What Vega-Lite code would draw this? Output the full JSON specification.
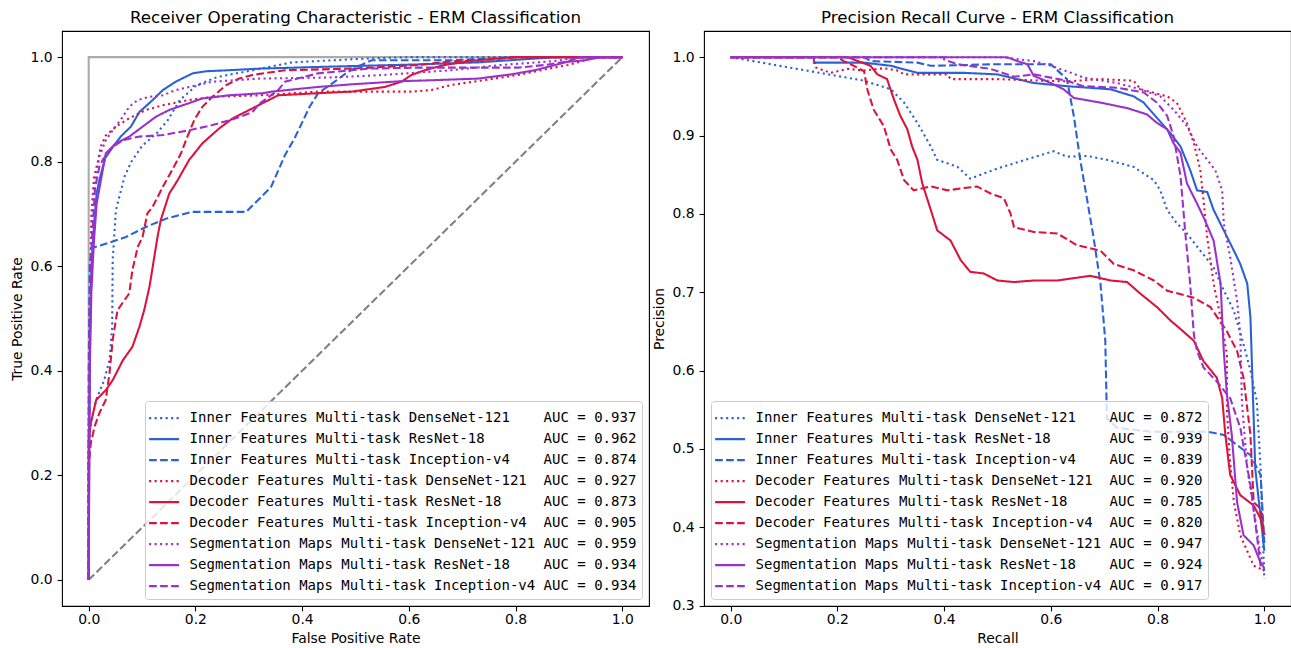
{
  "$schema": "https://vega.github.io/schema/vega-lite/v6.json",
  "background": "white",
  "padding": {"left": 9, "top": 9, "right": 0, "bottom": 2},
  "bounds": "flush",
  "spacing": 55,
  "config": {
    "font": "DejaVu Sans",
    "view": {"stroke": "black", "strokeWidth": 1.1},
    "axis": {"grid": false, "domain": false, "tickColor": "black", "tickSize": 4.9, "tickWidth": 1.1, "labelFont": "DejaVu Sans", "labelFontSize": 13.9, "labelColor": "black", "labelPadding": 1.9, "labelFlush": false, "titleFont": "DejaVu Sans", "titleFontSize": 13.9, "titleFontWeight": "normal", "titleColor": "black", "titlePadding": 4.6},
    "axisY": {"labelPadding": 4.9, "titlePadding": 5.6},
    "legend": {"offset": 7, "fillColor": "rgba(255,255,255,0.8)", "strokeColor": "#cccccc", "cornerRadius": 3, "padding": 5.6, "labelFont": "DejaVu Sans Mono", "labelFontSize": 14, "labelColor": "black", "labelLimit": 1000, "labelOffset": 16, "symbolType": "M-1.3,0L1.7,0", "symbolSize": 400, "symbolStrokeWidth": 2.08, "rowPadding": 2},
    "title": {"font": "DejaVu Sans", "fontSize": 16.7, "fontWeight": "normal", "color": "black", "offset": 4, "anchor": "middle"},
    "line": {"strokeWidth": 2.08}
  },
  "datasets": {
    "rocLab": [
      {"k": "IFD", "label": "Inner Features Multi-task DenseNet-121\u00a0\u00a0\u00a0 AUC = 0.937"},
      {"k": "IFR", "label": "Inner Features Multi-task ResNet-18\u00a0\u00a0\u00a0\u00a0\u00a0\u00a0 AUC = 0.962"},
      {"k": "IFI", "label": "Inner Features Multi-task Inception-v4\u00a0\u00a0\u00a0 AUC = 0.874"},
      {"k": "DFD", "label": "Decoder Features Multi-task DenseNet-121\u00a0 AUC = 0.927"},
      {"k": "DFR", "label": "Decoder Features Multi-task ResNet-18\u00a0\u00a0\u00a0\u00a0 AUC = 0.873"},
      {"k": "DFI", "label": "Decoder Features Multi-task Inception-v4\u00a0 AUC = 0.905"},
      {"k": "SMD", "label": "Segmentation Maps Multi-task DenseNet-121 AUC = 0.959"},
      {"k": "SMR", "label": "Segmentation Maps Multi-task ResNet-18\u00a0\u00a0\u00a0 AUC = 0.934"},
      {"k": "SMI", "label": "Segmentation Maps Multi-task Inception-v4 AUC = 0.934"}
    ],
    "prLab": [
      {"k": "IFD", "label": "Inner Features Multi-task DenseNet-121\u00a0\u00a0\u00a0 AUC = 0.872"},
      {"k": "IFR", "label": "Inner Features Multi-task ResNet-18\u00a0\u00a0\u00a0\u00a0\u00a0\u00a0 AUC = 0.939"},
      {"k": "IFI", "label": "Inner Features Multi-task Inception-v4\u00a0\u00a0\u00a0 AUC = 0.839"},
      {"k": "DFD", "label": "Decoder Features Multi-task DenseNet-121\u00a0 AUC = 0.920"},
      {"k": "DFR", "label": "Decoder Features Multi-task ResNet-18\u00a0\u00a0\u00a0\u00a0 AUC = 0.785"},
      {"k": "DFI", "label": "Decoder Features Multi-task Inception-v4\u00a0 AUC = 0.820"},
      {"k": "SMD", "label": "Segmentation Maps Multi-task DenseNet-121 AUC = 0.947"},
      {"k": "SMR", "label": "Segmentation Maps Multi-task ResNet-18\u00a0\u00a0\u00a0 AUC = 0.924"},
      {"k": "SMI", "label": "Segmentation Maps Multi-task Inception-v4 AUC = 0.917"}
    ],
    "roc": [
      {"k":"IFD","i":0,"x":0,"y":0},{"k":"IFD","i":1,"x":0,"y":0.25},{"k":"IFD","i":2,"x":0.004,"y":0.30},{"k":"IFD","i":3,"x":0.014,"y":0.344},{"k":"IFD","i":4,"x":0.029,"y":0.382},{"k":"IFD","i":5,"x":0.039,"y":0.42},{"k":"IFD","i":6,"x":0.044,"y":0.484},{"k":"IFD","i":7,"x":0.045,"y":0.612},{"k":"IFD","i":8,"x":0.051,"y":0.707},{"k":"IFD","i":9,"x":0.067,"y":0.771},{"k":"IFD","i":10,"x":0.08,"y":0.80},{"k":"IFD","i":11,"x":0.10,"y":0.83},{"k":"IFD","i":12,"x":0.128,"y":0.855},{"k":"IFD","i":13,"x":0.148,"y":0.879},{"k":"IFD","i":14,"x":0.171,"y":0.918},{"k":"IFD","i":15,"x":0.202,"y":0.946},{"k":"IFD","i":16,"x":0.241,"y":0.962},{"k":"IFD","i":17,"x":0.303,"y":0.974},{"k":"IFD","i":18,"x":0.381,"y":0.99},{"k":"IFD","i":19,"x":0.458,"y":0.994},{"k":"IFD","i":20,"x":0.536,"y":0.998},{"k":"IFD","i":21,"x":0.6,"y":1.0},{"k":"IFD","i":22,"x":1,"y":1},
      {"k":"IFR","i":0,"x":0,"y":0},{"k":"IFR","i":1,"x":0.001,"y":0.3},{"k":"IFR","i":2,"x":0.003,"y":0.5},{"k":"IFR","i":3,"x":0.005,"y":0.6},{"k":"IFR","i":4,"x":0.01,"y":0.68},{"k":"IFR","i":5,"x":0.015,"y":0.74},{"k":"IFR","i":6,"x":0.020,"y":0.765},{"k":"IFR","i":7,"x":0.031,"y":0.807},{"k":"IFR","i":8,"x":0.045,"y":0.828},{"k":"IFR","i":9,"x":0.060,"y":0.848},{"k":"IFR","i":10,"x":0.079,"y":0.867},{"k":"IFR","i":11,"x":0.095,"y":0.895},{"k":"IFR","i":12,"x":0.12,"y":0.918},{"k":"IFR","i":13,"x":0.139,"y":0.937},{"k":"IFR","i":14,"x":0.163,"y":0.953},{"k":"IFR","i":15,"x":0.195,"y":0.969},{"k":"IFR","i":16,"x":0.22,"y":0.973},{"k":"IFR","i":17,"x":0.263,"y":0.975},{"k":"IFR","i":18,"x":0.32,"y":0.978},{"k":"IFR","i":19,"x":0.458,"y":0.982},{"k":"IFR","i":20,"x":0.614,"y":0.986},{"k":"IFR","i":21,"x":0.73,"y":0.99},{"k":"IFR","i":22,"x":0.847,"y":0.998},{"k":"IFR","i":23,"x":0.88,"y":1.0},{"k":"IFR","i":24,"x":1,"y":1},
      {"k":"IFI","i":0,"x":0,"y":0},{"k":"IFI","i":1,"x":0,"y":0.4},{"k":"IFI","i":2,"x":0.002,"y":0.6},{"k":"IFI","i":3,"x":0.005,"y":0.635},{"k":"IFI","i":4,"x":0.023,"y":0.64},{"k":"IFI","i":5,"x":0.07,"y":0.656},{"k":"IFI","i":6,"x":0.109,"y":0.676},{"k":"IFI","i":7,"x":0.148,"y":0.692},{"k":"IFI","i":8,"x":0.194,"y":0.704},{"k":"IFI","i":9,"x":0.295,"y":0.704},{"k":"IFI","i":10,"x":0.319,"y":0.728},{"k":"IFI","i":11,"x":0.342,"y":0.752},{"k":"IFI","i":12,"x":0.368,"y":0.813},{"k":"IFI","i":13,"x":0.386,"y":0.845},{"k":"IFI","i":14,"x":0.414,"y":0.905},{"k":"IFI","i":15,"x":0.43,"y":0.931},{"k":"IFI","i":16,"x":0.461,"y":0.953},{"k":"IFI","i":17,"x":0.486,"y":0.972},{"k":"IFI","i":18,"x":0.511,"y":0.985},{"k":"IFI","i":19,"x":0.53,"y":0.994},{"k":"IFI","i":20,"x":0.68,"y":0.994},{"k":"IFI","i":21,"x":0.8,"y":1.0},{"k":"IFI","i":22,"x":1,"y":1},
      {"k":"DFD","i":0,"x":0,"y":0},{"k":"DFD","i":1,"x":0,"y":0.25},{"k":"DFD","i":2,"x":0.002,"y":0.5},{"k":"DFD","i":3,"x":0.005,"y":0.7},{"k":"DFD","i":4,"x":0.01,"y":0.77},{"k":"DFD","i":5,"x":0.017,"y":0.8},{"k":"DFD","i":6,"x":0.023,"y":0.83},{"k":"DFD","i":7,"x":0.032,"y":0.85},{"k":"DFD","i":8,"x":0.051,"y":0.867},{"k":"DFD","i":9,"x":0.076,"y":0.883},{"k":"DFD","i":10,"x":0.107,"y":0.899},{"k":"DFD","i":11,"x":0.139,"y":0.908},{"k":"DFD","i":12,"x":0.188,"y":0.918},{"k":"DFD","i":13,"x":0.232,"y":0.924},{"k":"DFD","i":14,"x":0.32,"y":0.927},{"k":"DFD","i":15,"x":0.43,"y":0.934},{"k":"DFD","i":16,"x":0.605,"y":0.934},{"k":"DFD","i":17,"x":0.642,"y":0.937},{"k":"DFD","i":18,"x":0.68,"y":0.947},{"k":"DFD","i":19,"x":0.742,"y":0.956},{"k":"DFD","i":20,"x":0.805,"y":0.966},{"k":"DFD","i":21,"x":0.848,"y":0.975},{"k":"DFD","i":22,"x":0.898,"y":0.985},{"k":"DFD","i":23,"x":0.93,"y":0.994},{"k":"DFD","i":24,"x":0.95,"y":1.0},{"k":"DFD","i":25,"x":1,"y":1},
      {"k":"DFR","i":0,"x":0,"y":0},{"k":"DFR","i":1,"x":0,"y":0.27},{"k":"DFR","i":2,"x":0.004,"y":0.30},{"k":"DFR","i":3,"x":0.014,"y":0.344},{"k":"DFR","i":4,"x":0.032,"y":0.363},{"k":"DFR","i":5,"x":0.045,"y":0.382},{"k":"DFR","i":6,"x":0.064,"y":0.42},{"k":"DFR","i":7,"x":0.082,"y":0.446},{"k":"DFR","i":8,"x":0.095,"y":0.484},{"k":"DFR","i":9,"x":0.104,"y":0.516},{"k":"DFR","i":10,"x":0.114,"y":0.561},{"k":"DFR","i":11,"x":0.12,"y":0.599},{"k":"DFR","i":12,"x":0.129,"y":0.656},{"k":"DFR","i":13,"x":0.135,"y":0.688},{"k":"DFR","i":14,"x":0.151,"y":0.739},{"k":"DFR","i":15,"x":0.167,"y":0.765},{"k":"DFR","i":16,"x":0.188,"y":0.803},{"k":"DFR","i":17,"x":0.213,"y":0.835},{"k":"DFR","i":18,"x":0.245,"y":0.864},{"k":"DFR","i":19,"x":0.27,"y":0.883},{"k":"DFR","i":20,"x":0.301,"y":0.899},{"k":"DFR","i":21,"x":0.326,"y":0.912},{"k":"DFR","i":22,"x":0.355,"y":0.927},{"k":"DFR","i":23,"x":0.43,"y":0.931},{"k":"DFR","i":24,"x":0.493,"y":0.934},{"k":"DFR","i":25,"x":0.555,"y":0.943},{"k":"DFR","i":26,"x":0.586,"y":0.953},{"k":"DFR","i":27,"x":0.605,"y":0.966},{"k":"DFR","i":28,"x":0.63,"y":0.975},{"k":"DFR","i":29,"x":0.667,"y":0.985},{"k":"DFR","i":30,"x":0.711,"y":0.992},{"k":"DFR","i":31,"x":0.75,"y":0.996},{"k":"DFR","i":32,"x":0.8,"y":1.0},{"k":"DFR","i":33,"x":1,"y":1},
      {"k":"DFI","i":0,"x":0,"y":0},{"k":"DFI","i":1,"x":0,"y":0.22},{"k":"DFI","i":2,"x":0.004,"y":0.261},{"k":"DFI","i":3,"x":0.011,"y":0.293},{"k":"DFI","i":4,"x":0.02,"y":0.319},{"k":"DFI","i":5,"x":0.032,"y":0.344},{"k":"DFI","i":6,"x":0.039,"y":0.395},{"k":"DFI","i":7,"x":0.045,"y":0.459},{"k":"DFI","i":8,"x":0.054,"y":0.516},{"k":"DFI","i":9,"x":0.067,"y":0.535},{"k":"DFI","i":10,"x":0.076,"y":0.548},{"k":"DFI","i":11,"x":0.082,"y":0.593},{"k":"DFI","i":12,"x":0.092,"y":0.637},{"k":"DFI","i":13,"x":0.101,"y":0.656},{"k":"DFI","i":14,"x":0.11,"y":0.701},{"k":"DFI","i":15,"x":0.12,"y":0.714},{"k":"DFI","i":16,"x":0.139,"y":0.752},{"k":"DFI","i":17,"x":0.157,"y":0.785},{"k":"DFI","i":18,"x":0.173,"y":0.816},{"k":"DFI","i":19,"x":0.185,"y":0.848},{"k":"DFI","i":20,"x":0.198,"y":0.88},{"k":"DFI","i":21,"x":0.213,"y":0.905},{"k":"DFI","i":22,"x":0.232,"y":0.924},{"k":"DFI","i":23,"x":0.257,"y":0.946},{"k":"DFI","i":24,"x":0.282,"y":0.959},{"k":"DFI","i":25,"x":0.307,"y":0.966},{"k":"DFI","i":26,"x":0.368,"y":0.975},{"k":"DFI","i":27,"x":0.493,"y":0.978},{"k":"DFI","i":28,"x":0.617,"y":0.985},{"k":"DFI","i":29,"x":0.68,"y":0.992},{"k":"DFI","i":30,"x":0.742,"y":0.994},{"k":"DFI","i":31,"x":0.8,"y":1.0},{"k":"DFI","i":32,"x":1,"y":1},
      {"k":"SMD","i":0,"x":0,"y":0},{"k":"SMD","i":1,"x":0,"y":0.3},{"k":"SMD","i":2,"x":0.002,"y":0.55},{"k":"SMD","i":3,"x":0.005,"y":0.65},{"k":"SMD","i":4,"x":0.01,"y":0.75},{"k":"SMD","i":5,"x":0.015,"y":0.78},{"k":"SMD","i":6,"x":0.02,"y":0.81},{"k":"SMD","i":7,"x":0.032,"y":0.841},{"k":"SMD","i":8,"x":0.045,"y":0.86},{"k":"SMD","i":9,"x":0.06,"y":0.88},{"k":"SMD","i":10,"x":0.076,"y":0.905},{"k":"SMD","i":11,"x":0.092,"y":0.918},{"k":"SMD","i":12,"x":0.114,"y":0.924},{"k":"SMD","i":13,"x":0.139,"y":0.927},{"k":"SMD","i":14,"x":0.163,"y":0.937},{"k":"SMD","i":15,"x":0.201,"y":0.946},{"k":"SMD","i":16,"x":0.232,"y":0.953},{"k":"SMD","i":17,"x":0.276,"y":0.956},{"k":"SMD","i":18,"x":0.32,"y":0.959},{"k":"SMD","i":19,"x":0.45,"y":0.961},{"k":"SMD","i":20,"x":0.555,"y":0.966},{"k":"SMD","i":21,"x":0.68,"y":0.975},{"k":"SMD","i":22,"x":0.773,"y":0.985},{"k":"SMD","i":23,"x":0.867,"y":0.992},{"k":"SMD","i":24,"x":0.93,"y":1.0},{"k":"SMD","i":25,"x":1,"y":1},
      {"k":"SMR","i":0,"x":0,"y":0},{"k":"SMR","i":1,"x":0.002,"y":0.4},{"k":"SMR","i":2,"x":0.005,"y":0.55},{"k":"SMR","i":3,"x":0.01,"y":0.65},{"k":"SMR","i":4,"x":0.015,"y":0.72},{"k":"SMR","i":5,"x":0.023,"y":0.765},{"k":"SMR","i":6,"x":0.032,"y":0.816},{"k":"SMR","i":7,"x":0.051,"y":0.835},{"k":"SMR","i":8,"x":0.076,"y":0.848},{"k":"SMR","i":9,"x":0.101,"y":0.867},{"k":"SMR","i":10,"x":0.126,"y":0.886},{"k":"SMR","i":11,"x":0.151,"y":0.899},{"k":"SMR","i":12,"x":0.188,"y":0.912},{"k":"SMR","i":13,"x":0.213,"y":0.921},{"k":"SMR","i":14,"x":0.263,"y":0.927},{"k":"SMR","i":15,"x":0.326,"y":0.931},{"k":"SMR","i":16,"x":0.343,"y":0.934},{"k":"SMR","i":17,"x":0.43,"y":0.943},{"k":"SMR","i":18,"x":0.493,"y":0.948},{"k":"SMR","i":19,"x":0.586,"y":0.954},{"k":"SMR","i":20,"x":0.649,"y":0.956},{"k":"SMR","i":21,"x":0.73,"y":0.959},{"k":"SMR","i":22,"x":0.792,"y":0.967},{"k":"SMR","i":23,"x":0.836,"y":0.975},{"k":"SMR","i":24,"x":0.867,"y":0.983},{"k":"SMR","i":25,"x":0.898,"y":0.991},{"k":"SMR","i":26,"x":0.93,"y":0.994},{"k":"SMR","i":27,"x":0.96,"y":1.0},{"k":"SMR","i":28,"x":1,"y":1},
      {"k":"SMI","i":0,"x":0,"y":0},{"k":"SMI","i":1,"x":0.002,"y":0.45},{"k":"SMI","i":2,"x":0.006,"y":0.65},{"k":"SMI","i":3,"x":0.012,"y":0.75},{"k":"SMI","i":4,"x":0.02,"y":0.79},{"k":"SMI","i":5,"x":0.026,"y":0.803},{"k":"SMI","i":6,"x":0.045,"y":0.828},{"k":"SMI","i":7,"x":0.064,"y":0.841},{"k":"SMI","i":8,"x":0.095,"y":0.848},{"k":"SMI","i":9,"x":0.139,"y":0.851},{"k":"SMI","i":10,"x":0.188,"y":0.86},{"k":"SMI","i":11,"x":0.232,"y":0.87},{"k":"SMI","i":12,"x":0.276,"y":0.883},{"k":"SMI","i":13,"x":0.307,"y":0.895},{"k":"SMI","i":14,"x":0.319,"y":0.91},{"k":"SMI","i":15,"x":0.355,"y":0.937},{"k":"SMI","i":16,"x":0.368,"y":0.953},{"k":"SMI","i":17,"x":0.43,"y":0.969},{"k":"SMI","i":18,"x":0.524,"y":0.978},{"k":"SMI","i":19,"x":0.617,"y":0.98},{"k":"SMI","i":20,"x":0.805,"y":0.98},{"k":"SMI","i":21,"x":0.855,"y":0.985},{"k":"SMI","i":22,"x":0.898,"y":0.992},{"k":"SMI","i":23,"x":0.92,"y":1.0},{"k":"SMI","i":24,"x":1,"y":1}
    ],
    "pr": [
      {"k":"IFD","i":0,"x":0,"y":1.0},{"k":"IFD","i":1,"x":0.125,"y":0.985},{"k":"IFD","i":2,"x":0.25,"y":0.97},{"k":"IFD","i":3,"x":0.30,"y":0.959},{"k":"IFD","i":4,"x":0.325,"y":0.942},{"k":"IFD","i":5,"x":0.35,"y":0.916},{"k":"IFD","i":6,"x":0.375,"y":0.886},{"k":"IFD","i":7,"x":0.387,"y":0.869},{"k":"IFD","i":8,"x":0.425,"y":0.86},{"k":"IFD","i":9,"x":0.449,"y":0.845},{"k":"IFD","i":10,"x":0.50,"y":0.858},{"k":"IFD","i":11,"x":0.562,"y":0.871},{"k":"IFD","i":12,"x":0.605,"y":0.88},{"k":"IFD","i":13,"x":0.63,"y":0.873},{"k":"IFD","i":14,"x":0.668,"y":0.874},{"k":"IFD","i":15,"x":0.705,"y":0.869},{"k":"IFD","i":16,"x":0.755,"y":0.86},{"k":"IFD","i":17,"x":0.793,"y":0.843},{"k":"IFD","i":18,"x":0.805,"y":0.83},{"k":"IFD","i":19,"x":0.818,"y":0.805},{"k":"IFD","i":20,"x":0.836,"y":0.788},{"k":"IFD","i":21,"x":0.855,"y":0.775},{"k":"IFD","i":22,"x":0.88,"y":0.753},{"k":"IFD","i":23,"x":0.905,"y":0.732},{"k":"IFD","i":24,"x":0.918,"y":0.711},{"k":"IFD","i":25,"x":0.943,"y":0.676},{"k":"IFD","i":26,"x":0.961,"y":0.634},{"k":"IFD","i":27,"x":0.974,"y":0.6},{"k":"IFD","i":28,"x":0.986,"y":0.561},{"k":"IFD","i":29,"x":0.993,"y":0.475},{"k":"IFD","i":30,"x":1.0,"y":0.334},
      {"k":"IFR","i":0,"x":0,"y":1.0},{"k":"IFR","i":1,"x":0.156,"y":1.0},{"k":"IFR","i":2,"x":0.156,"y":0.993},{"k":"IFR","i":3,"x":0.25,"y":0.993},{"k":"IFR","i":4,"x":0.30,"y":0.989},{"k":"IFR","i":5,"x":0.35,"y":0.98},{"k":"IFR","i":6,"x":0.437,"y":0.98},{"k":"IFR","i":7,"x":0.50,"y":0.978},{"k":"IFR","i":8,"x":0.568,"y":0.967},{"k":"IFR","i":9,"x":0.63,"y":0.963},{"k":"IFR","i":10,"x":0.712,"y":0.959},{"k":"IFR","i":11,"x":0.755,"y":0.95},{"k":"IFR","i":12,"x":0.774,"y":0.942},{"k":"IFR","i":13,"x":0.793,"y":0.927},{"k":"IFR","i":14,"x":0.824,"y":0.903},{"k":"IFR","i":15,"x":0.843,"y":0.886},{"k":"IFR","i":16,"x":0.861,"y":0.856},{"k":"IFR","i":17,"x":0.874,"y":0.83},{"k":"IFR","i":18,"x":0.893,"y":0.828},{"k":"IFR","i":19,"x":0.905,"y":0.805},{"k":"IFR","i":20,"x":0.924,"y":0.779},{"k":"IFR","i":21,"x":0.943,"y":0.753},{"k":"IFR","i":22,"x":0.955,"y":0.736},{"k":"IFR","i":23,"x":0.968,"y":0.711},{"k":"IFR","i":24,"x":0.974,"y":0.668},{"k":"IFR","i":25,"x":0.977,"y":0.604},{"k":"IFR","i":26,"x":0.983,"y":0.475},{"k":"IFR","i":27,"x":0.99,"y":0.432},{"k":"IFR","i":28,"x":1.0,"y":0.37},
      {"k":"IFI","i":0,"x":0,"y":1.0},{"k":"IFI","i":1,"x":0.25,"y":1.0},{"k":"IFI","i":2,"x":0.262,"y":0.995},{"k":"IFI","i":3,"x":0.35,"y":0.993},{"k":"IFI","i":4,"x":0.375,"y":0.989},{"k":"IFI","i":5,"x":0.50,"y":0.991},{"k":"IFI","i":6,"x":0.6,"y":0.991},{"k":"IFI","i":7,"x":0.63,"y":0.972},{"k":"IFI","i":8,"x":0.643,"y":0.925},{"k":"IFI","i":9,"x":0.655,"y":0.869},{"k":"IFI","i":10,"x":0.668,"y":0.818},{"k":"IFI","i":11,"x":0.68,"y":0.77},{"k":"IFI","i":12,"x":0.693,"y":0.711},{"k":"IFI","i":13,"x":0.702,"y":0.638},{"k":"IFI","i":14,"x":0.705,"y":0.539},{"k":"IFI","i":15,"x":0.724,"y":0.527},{"k":"IFI","i":16,"x":0.787,"y":0.522},{"k":"IFI","i":17,"x":0.893,"y":0.522},{"k":"IFI","i":18,"x":0.924,"y":0.518},{"k":"IFI","i":19,"x":0.974,"y":0.492},{"k":"IFI","i":20,"x":0.993,"y":0.467},{"k":"IFI","i":21,"x":1.0,"y":0.38},
      {"k":"DFD","i":0,"x":0,"y":1.0},{"k":"DFD","i":1,"x":0.156,"y":1.0},{"k":"DFD","i":2,"x":0.159,"y":0.987},{"k":"DFD","i":3,"x":0.187,"y":0.98},{"k":"DFD","i":4,"x":0.219,"y":0.985},{"k":"DFD","i":5,"x":0.25,"y":0.983},{"k":"DFD","i":6,"x":0.287,"y":0.986},{"k":"DFD","i":7,"x":0.312,"y":0.983},{"k":"DFD","i":8,"x":0.325,"y":0.978},{"k":"DFD","i":9,"x":0.406,"y":0.978},{"k":"DFD","i":10,"x":0.412,"y":0.972},{"k":"DFD","i":11,"x":0.50,"y":0.972},{"k":"DFD","i":12,"x":0.63,"y":0.969},{"k":"DFD","i":13,"x":0.693,"y":0.972},{"k":"DFD","i":14,"x":0.755,"y":0.97},{"k":"DFD","i":15,"x":0.768,"y":0.959},{"k":"DFD","i":16,"x":0.818,"y":0.95},{"k":"DFD","i":17,"x":0.836,"y":0.942},{"k":"DFD","i":18,"x":0.855,"y":0.916},{"k":"DFD","i":19,"x":0.868,"y":0.89},{"k":"DFD","i":20,"x":0.88,"y":0.856},{"k":"DFD","i":21,"x":0.886,"y":0.818},{"k":"DFD","i":22,"x":0.893,"y":0.77},{"k":"DFD","i":23,"x":0.905,"y":0.711},{"k":"DFD","i":24,"x":0.918,"y":0.668},{"k":"DFD","i":25,"x":0.93,"y":0.62},{"k":"DFD","i":26,"x":0.93,"y":0.55},{"k":"DFD","i":27,"x":0.935,"y":0.49},{"k":"DFD","i":28,"x":0.943,"y":0.432},{"k":"DFD","i":29,"x":0.955,"y":0.39},{"k":"DFD","i":30,"x":0.98,"y":0.351},{"k":"DFD","i":31,"x":1.0,"y":0.345},
      {"k":"DFR","i":0,"x":0,"y":1.0},{"k":"DFR","i":1,"x":0.219,"y":1.0},{"k":"DFR","i":2,"x":0.262,"y":0.989},{"k":"DFR","i":3,"x":0.275,"y":0.978},{"k":"DFR","i":4,"x":0.293,"y":0.972},{"k":"DFR","i":5,"x":0.306,"y":0.946},{"k":"DFR","i":6,"x":0.318,"y":0.925},{"k":"DFR","i":7,"x":0.331,"y":0.908},{"k":"DFR","i":8,"x":0.34,"y":0.886},{"k":"DFR","i":9,"x":0.35,"y":0.869},{"k":"DFR","i":10,"x":0.359,"y":0.839},{"k":"DFR","i":11,"x":0.375,"y":0.805},{"k":"DFR","i":12,"x":0.387,"y":0.779},{"k":"DFR","i":13,"x":0.412,"y":0.766},{"k":"DFR","i":14,"x":0.431,"y":0.741},{"k":"DFR","i":15,"x":0.449,"y":0.726},{"k":"DFR","i":16,"x":0.474,"y":0.724},{"k":"DFR","i":17,"x":0.50,"y":0.715},{"k":"DFR","i":18,"x":0.531,"y":0.713},{"k":"DFR","i":19,"x":0.568,"y":0.715},{"k":"DFR","i":20,"x":0.612,"y":0.715},{"k":"DFR","i":21,"x":0.674,"y":0.721},{"k":"DFR","i":22,"x":0.712,"y":0.715},{"k":"DFR","i":23,"x":0.743,"y":0.713},{"k":"DFR","i":24,"x":0.768,"y":0.698},{"k":"DFR","i":25,"x":0.799,"y":0.681},{"k":"DFR","i":26,"x":0.824,"y":0.664},{"k":"DFR","i":27,"x":0.843,"y":0.653},{"k":"DFR","i":28,"x":0.868,"y":0.638},{"k":"DFR","i":29,"x":0.886,"y":0.612},{"k":"DFR","i":30,"x":0.911,"y":0.591},{"k":"DFR","i":31,"x":0.921,"y":0.565},{"k":"DFR","i":32,"x":0.927,"y":0.518},{"k":"DFR","i":33,"x":0.936,"y":0.467},{"k":"DFR","i":34,"x":0.955,"y":0.441},{"k":"DFR","i":35,"x":0.98,"y":0.428},{"k":"DFR","i":36,"x":0.993,"y":0.411},{"k":"DFR","i":37,"x":1.0,"y":0.39},
      {"k":"DFI","i":0,"x":0,"y":1.0},{"k":"DFI","i":1,"x":0.2,"y":1.0},{"k":"DFI","i":2,"x":0.212,"y":0.995},{"k":"DFI","i":3,"x":0.225,"y":0.991},{"k":"DFI","i":4,"x":0.25,"y":0.982},{"k":"DFI","i":5,"x":0.256,"y":0.959},{"k":"DFI","i":6,"x":0.268,"y":0.933},{"k":"DFI","i":7,"x":0.287,"y":0.912},{"k":"DFI","i":8,"x":0.30,"y":0.882},{"k":"DFI","i":9,"x":0.312,"y":0.869},{"k":"DFI","i":10,"x":0.325,"y":0.843},{"k":"DFI","i":11,"x":0.343,"y":0.83},{"k":"DFI","i":12,"x":0.375,"y":0.835},{"k":"DFI","i":13,"x":0.406,"y":0.83},{"k":"DFI","i":14,"x":0.437,"y":0.833},{"k":"DFI","i":15,"x":0.462,"y":0.835},{"k":"DFI","i":16,"x":0.487,"y":0.826},{"k":"DFI","i":17,"x":0.512,"y":0.82},{"k":"DFI","i":18,"x":0.524,"y":0.801},{"k":"DFI","i":19,"x":0.531,"y":0.783},{"k":"DFI","i":20,"x":0.568,"y":0.777},{"k":"DFI","i":21,"x":0.612,"y":0.775},{"k":"DFI","i":22,"x":0.649,"y":0.76},{"k":"DFI","i":23,"x":0.693,"y":0.753},{"k":"DFI","i":24,"x":0.718,"y":0.736},{"k":"DFI","i":25,"x":0.755,"y":0.728},{"k":"DFI","i":26,"x":0.793,"y":0.715},{"k":"DFI","i":27,"x":0.818,"y":0.702},{"k":"DFI","i":28,"x":0.868,"y":0.693},{"k":"DFI","i":29,"x":0.899,"y":0.681},{"k":"DFI","i":30,"x":0.93,"y":0.65},{"k":"DFI","i":31,"x":0.949,"y":0.625},{"k":"DFI","i":32,"x":0.961,"y":0.591},{"k":"DFI","i":33,"x":0.974,"y":0.518},{"k":"DFI","i":34,"x":0.98,"y":0.432},{"k":"DFI","i":35,"x":0.993,"y":0.424},{"k":"DFI","i":36,"x":1.0,"y":0.39},
      {"k":"SMD","i":0,"x":0,"y":1.0},{"k":"SMD","i":1,"x":0.506,"y":1.0},{"k":"SMD","i":2,"x":0.568,"y":0.995},{"k":"SMD","i":3,"x":0.6,"y":0.989},{"k":"SMD","i":4,"x":0.63,"y":0.982},{"k":"SMD","i":5,"x":0.661,"y":0.974},{"k":"SMD","i":6,"x":0.724,"y":0.967},{"k":"SMD","i":7,"x":0.768,"y":0.959},{"k":"SMD","i":8,"x":0.805,"y":0.95},{"k":"SMD","i":9,"x":0.83,"y":0.933},{"k":"SMD","i":10,"x":0.855,"y":0.912},{"k":"SMD","i":11,"x":0.874,"y":0.886},{"k":"SMD","i":12,"x":0.893,"y":0.869},{"k":"SMD","i":13,"x":0.908,"y":0.856},{"k":"SMD","i":14,"x":0.921,"y":0.83},{"k":"SMD","i":15,"x":0.924,"y":0.788},{"k":"SMD","i":16,"x":0.936,"y":0.745},{"k":"SMD","i":17,"x":0.949,"y":0.689},{"k":"SMD","i":18,"x":0.955,"y":0.646},{"k":"SMD","i":19,"x":0.958,"y":0.561},{"k":"SMD","i":20,"x":0.968,"y":0.475},{"k":"SMD","i":21,"x":0.98,"y":0.424},{"k":"SMD","i":22,"x":0.993,"y":0.364},{"k":"SMD","i":23,"x":1.0,"y":0.351},
      {"k":"SMR","i":0,"x":0,"y":1.0},{"k":"SMR","i":1,"x":0.518,"y":1.0},{"k":"SMR","i":2,"x":0.537,"y":0.995},{"k":"SMR","i":3,"x":0.556,"y":0.991},{"k":"SMR","i":4,"x":0.568,"y":0.976},{"k":"SMR","i":5,"x":0.6,"y":0.967},{"k":"SMR","i":6,"x":0.624,"y":0.959},{"k":"SMR","i":7,"x":0.643,"y":0.948},{"k":"SMR","i":8,"x":0.693,"y":0.942},{"k":"SMR","i":9,"x":0.743,"y":0.935},{"k":"SMR","i":10,"x":0.78,"y":0.927},{"k":"SMR","i":11,"x":0.799,"y":0.916},{"k":"SMR","i":12,"x":0.818,"y":0.908},{"k":"SMR","i":13,"x":0.83,"y":0.89},{"k":"SMR","i":14,"x":0.843,"y":0.878},{"k":"SMR","i":15,"x":0.855,"y":0.839},{"k":"SMR","i":16,"x":0.874,"y":0.813},{"k":"SMR","i":17,"x":0.886,"y":0.796},{"k":"SMR","i":18,"x":0.905,"y":0.766},{"k":"SMR","i":19,"x":0.918,"y":0.711},{"k":"SMR","i":20,"x":0.924,"y":0.625},{"k":"SMR","i":21,"x":0.93,"y":0.569},{"k":"SMR","i":22,"x":0.939,"y":0.518},{"k":"SMR","i":23,"x":0.949,"y":0.432},{"k":"SMR","i":24,"x":0.961,"y":0.39},{"k":"SMR","i":25,"x":0.98,"y":0.377},{"k":"SMR","i":26,"x":0.993,"y":0.355},{"k":"SMR","i":27,"x":1.0,"y":0.348},
      {"k":"SMI","i":0,"x":0,"y":1.0},{"k":"SMI","i":1,"x":0.40,"y":1.0},{"k":"SMI","i":2,"x":0.40,"y":0.997},{"k":"SMI","i":3,"x":0.425,"y":0.991},{"k":"SMI","i":4,"x":0.487,"y":0.985},{"k":"SMI","i":5,"x":0.531,"y":0.975},{"k":"SMI","i":6,"x":0.568,"y":0.978},{"k":"SMI","i":7,"x":0.63,"y":0.97},{"k":"SMI","i":8,"x":0.661,"y":0.963},{"k":"SMI","i":9,"x":0.724,"y":0.961},{"k":"SMI","i":10,"x":0.774,"y":0.955},{"k":"SMI","i":11,"x":0.799,"y":0.942},{"k":"SMI","i":12,"x":0.818,"y":0.925},{"k":"SMI","i":13,"x":0.83,"y":0.899},{"k":"SMI","i":14,"x":0.843,"y":0.848},{"k":"SMI","i":15,"x":0.852,"y":0.775},{"k":"SMI","i":16,"x":0.861,"y":0.711},{"k":"SMI","i":17,"x":0.868,"y":0.646},{"k":"SMI","i":18,"x":0.874,"y":0.625},{"k":"SMI","i":19,"x":0.886,"y":0.604},{"k":"SMI","i":20,"x":0.911,"y":0.586},{"k":"SMI","i":21,"x":0.936,"y":0.565},{"k":"SMI","i":22,"x":0.955,"y":0.527},{"k":"SMI","i":23,"x":0.974,"y":0.454},{"k":"SMI","i":24,"x":0.986,"y":0.39},{"k":"SMI","i":25,"x":0.993,"y":0.351},{"k":"SMI","i":26,"x":1.0,"y":0.344}
    ]
  },
  "hconcat": [
    {
      "width": 587,
      "height": 575,
      "title": "Receiver Operating Characteristic - ERM Classification",
      "layer": [
        {
          "data": {"values": [{"x": 0, "y": 0, "i": 0}, {"x": 0, "y": 1, "i": 1}, {"x": 1, "y": 1, "i": 2}]},
          "mark": {"type": "line", "color": "#aaaaaa", "strokeWidth": 2.08},
          "encoding": {
            "x": {"field": "x", "type": "quantitative", "scale": {"domain": [-0.05, 1.05], "nice": false, "zero": false}, "axis": {"values": [0, 0.2, 0.4, 0.6, 0.8, 1], "format": ".1f", "title": "False Positive Rate"}},
            "y": {"field": "y", "type": "quantitative", "scale": {"domain": [-0.05, 1.05], "nice": false, "zero": false}, "axis": {"values": [0, 0.2, 0.4, 0.6, 0.8, 1], "format": ".1f", "title": "True Positive Rate"}},
            "order": {"field": "i", "type": "quantitative"}
          }
        },
        {
          "data": {"values": [{"x": 0, "y": 0, "i": 0}, {"x": 1, "y": 1, "i": 1}]},
          "mark": {"type": "line", "color": "#808080", "strokeWidth": 2.08, "strokeDash": [7.7, 3.3]},
          "encoding": {
            "x": {"field": "x", "type": "quantitative"},
            "y": {"field": "y", "type": "quantitative"},
            "order": {"field": "i", "type": "quantitative"}
          }
        },
        {
          "data": {"name": "roc"},
          "transform": [{"lookup": "k", "from": {"data": {"name": "rocLab"}, "key": "k", "fields": ["label"]}}],
          "mark": {"type": "line", "strokeWidth": 2.08},
          "encoding": {
            "x": {"field": "x", "type": "quantitative"},
            "y": {"field": "y", "type": "quantitative"},
            "order": {"field": "i", "type": "quantitative"},
            "color": {"field": "label", "type": "nominal", "scale": {"domain": [
              "Inner Features Multi-task DenseNet-121\u00a0\u00a0\u00a0 AUC = 0.937",
              "Inner Features Multi-task ResNet-18\u00a0\u00a0\u00a0\u00a0\u00a0\u00a0 AUC = 0.962",
              "Inner Features Multi-task Inception-v4\u00a0\u00a0\u00a0 AUC = 0.874",
              "Decoder Features Multi-task DenseNet-121\u00a0 AUC = 0.927",
              "Decoder Features Multi-task ResNet-18\u00a0\u00a0\u00a0\u00a0 AUC = 0.873",
              "Decoder Features Multi-task Inception-v4\u00a0 AUC = 0.905",
              "Segmentation Maps Multi-task DenseNet-121 AUC = 0.959",
              "Segmentation Maps Multi-task ResNet-18\u00a0\u00a0\u00a0 AUC = 0.934",
              "Segmentation Maps Multi-task Inception-v4 AUC = 0.934"],
              "range": ["#2a62d6", "#2a62d6", "#2a62d6", "#dc143c", "#dc143c", "#dc143c", "#9932cc", "#9932cc", "#9932cc"]},
              "legend": {"title": null, "orient": "bottom-right"}},
            "strokeDash": {"field": "label", "type": "nominal", "scale": {"domain": [
              "Inner Features Multi-task DenseNet-121\u00a0\u00a0\u00a0 AUC = 0.937",
              "Inner Features Multi-task ResNet-18\u00a0\u00a0\u00a0\u00a0\u00a0\u00a0 AUC = 0.962",
              "Inner Features Multi-task Inception-v4\u00a0\u00a0\u00a0 AUC = 0.874",
              "Decoder Features Multi-task DenseNet-121\u00a0 AUC = 0.927",
              "Decoder Features Multi-task ResNet-18\u00a0\u00a0\u00a0\u00a0 AUC = 0.873",
              "Decoder Features Multi-task Inception-v4\u00a0 AUC = 0.905",
              "Segmentation Maps Multi-task DenseNet-121 AUC = 0.959",
              "Segmentation Maps Multi-task ResNet-18\u00a0\u00a0\u00a0 AUC = 0.934",
              "Segmentation Maps Multi-task Inception-v4 AUC = 0.934"],
              "range": [[2.1, 3.4], [1, 0], [7.7, 3.3], [2.1, 3.4], [1, 0], [7.7, 3.3], [2.1, 3.4], [1, 0], [7.7, 3.3]]},
              "legend": {"title": null, "orient": "bottom-right"}}
          }
        }
      ]
    },
    {
      "width": 587,
      "height": 575,
      "title": "Precision Recall Curve - ERM Classification",
      "data": {"name": "pr"},
      "transform": [{"lookup": "k", "from": {"data": {"name": "prLab"}, "key": "k", "fields": ["label"]}}],
      "mark": {"type": "line", "strokeWidth": 2.08},
      "encoding": {
        "x": {"field": "x", "type": "quantitative", "scale": {"domain": [-0.05, 1.05], "nice": false, "zero": false}, "axis": {"values": [0, 0.2, 0.4, 0.6, 0.8, 1], "format": ".1f", "title": "Recall"}},
        "y": {"field": "y", "type": "quantitative", "scale": {"domain": [0.2996, 1.0334], "nice": false, "zero": false}, "axis": {"values": [0.3, 0.4, 0.5, 0.6, 0.7, 0.8, 0.9, 1.0], "format": ".1f", "title": "Precision"}},
        "order": {"field": "i", "type": "quantitative"},
        "color": {"field": "label", "type": "nominal", "scale": {"domain": [
          "Inner Features Multi-task DenseNet-121\u00a0\u00a0\u00a0 AUC = 0.872",
          "Inner Features Multi-task ResNet-18\u00a0\u00a0\u00a0\u00a0\u00a0\u00a0 AUC = 0.939",
          "Inner Features Multi-task Inception-v4\u00a0\u00a0\u00a0 AUC = 0.839",
          "Decoder Features Multi-task DenseNet-121\u00a0 AUC = 0.920",
          "Decoder Features Multi-task ResNet-18\u00a0\u00a0\u00a0\u00a0 AUC = 0.785",
          "Decoder Features Multi-task Inception-v4\u00a0 AUC = 0.820",
          "Segmentation Maps Multi-task DenseNet-121 AUC = 0.947",
          "Segmentation Maps Multi-task ResNet-18\u00a0\u00a0\u00a0 AUC = 0.924",
          "Segmentation Maps Multi-task Inception-v4 AUC = 0.917"],
          "range": ["#2a62d6", "#2a62d6", "#2a62d6", "#dc143c", "#dc143c", "#dc143c", "#9932cc", "#9932cc", "#9932cc"]},
          "legend": {"title": null, "orient": "bottom-left"}},
        "strokeDash": {"field": "label", "type": "nominal", "scale": {"domain": [
          "Inner Features Multi-task DenseNet-121\u00a0\u00a0\u00a0 AUC = 0.872",
          "Inner Features Multi-task ResNet-18\u00a0\u00a0\u00a0\u00a0\u00a0\u00a0 AUC = 0.939",
          "Inner Features Multi-task Inception-v4\u00a0\u00a0\u00a0 AUC = 0.839",
          "Decoder Features Multi-task DenseNet-121\u00a0 AUC = 0.920",
          "Decoder Features Multi-task ResNet-18\u00a0\u00a0\u00a0\u00a0 AUC = 0.785",
          "Decoder Features Multi-task Inception-v4\u00a0 AUC = 0.820",
          "Segmentation Maps Multi-task DenseNet-121 AUC = 0.947",
          "Segmentation Maps Multi-task ResNet-18\u00a0\u00a0\u00a0 AUC = 0.924",
          "Segmentation Maps Multi-task Inception-v4 AUC = 0.917"],
          "range": [[2.1, 3.4], [1, 0], [7.7, 3.3], [2.1, 3.4], [1, 0], [7.7, 3.3], [2.1, 3.4], [1, 0], [7.7, 3.3]]},
          "legend": {"title": null, "orient": "bottom-left"}}
      }
    }
  ],
  "resolve": {"scale": {"color": "independent", "strokeDash": "independent", "x": "independent", "y": "independent"}, "legend": {"color": "independent", "strokeDash": "independent"}}
}
